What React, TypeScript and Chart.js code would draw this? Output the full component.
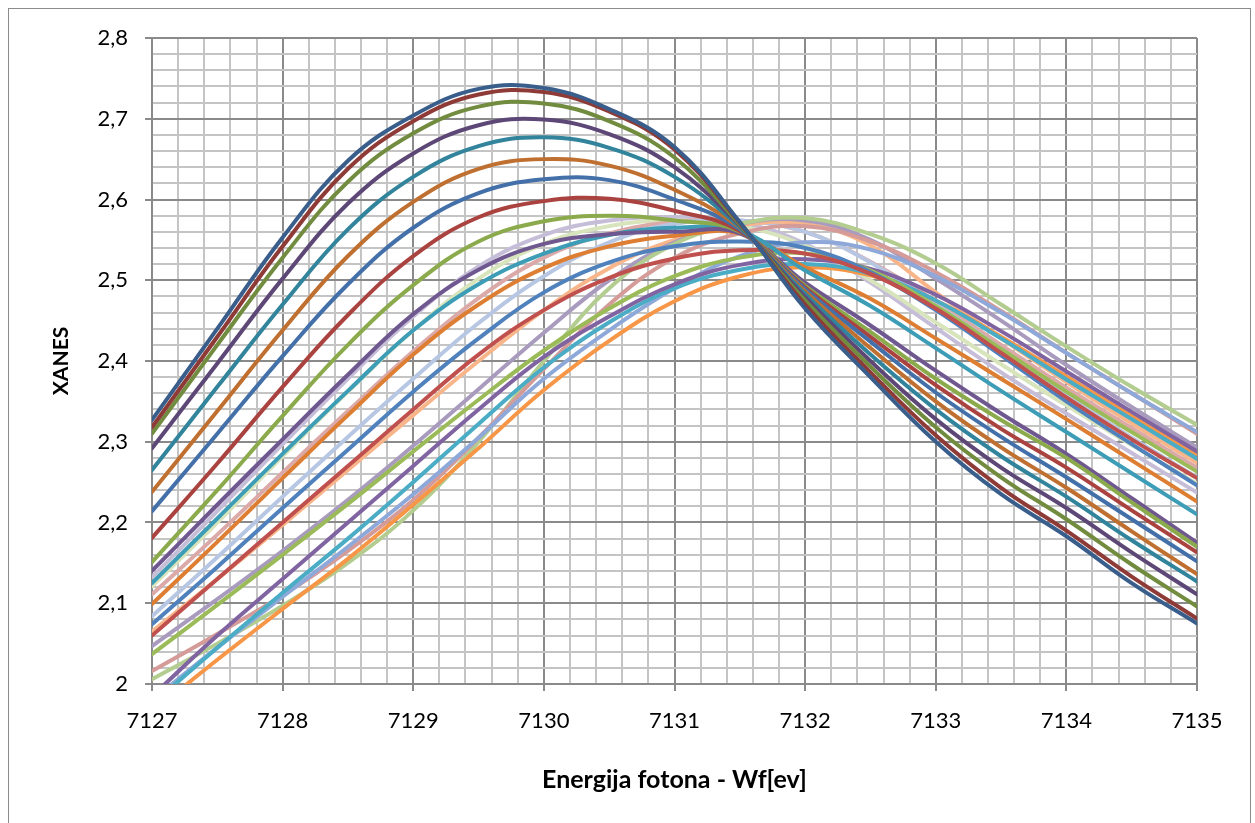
import React, { useEffect, useRef } from 'react';
import { Chart, registerables } from 'chart.js';
Chart.register(...registerables);

const X_VALUES = [7127, 7127.5, 7128, 7128.5, 7129, 7129.5, 7130, 7130.5, 7131, 7131.5, 7132, 7132.5, 7133, 7133.5, 7134, 7134.5, 7135];

// Family with early peaks
const S01 = [2.327, 2.440, 2.553, 2.648, 2.704, 2.737, 2.738, 2.712, 2.665, 2.572, 2.465, 2.380, 2.300, 2.235, 2.183, 2.125, 2.075];
const S02 = [2.318, 2.430, 2.542, 2.638, 2.697, 2.730, 2.733, 2.709, 2.662, 2.571, 2.470, 2.386, 2.308, 2.243, 2.190, 2.133, 2.081];
const S03 = [2.310, 2.420, 2.528, 2.622, 2.682, 2.715, 2.719, 2.697, 2.652, 2.569, 2.475, 2.393, 2.318, 2.256, 2.204, 2.148, 2.096];
const S04 = [2.292, 2.397, 2.502, 2.595, 2.657, 2.692, 2.699, 2.681, 2.640, 2.568, 2.479, 2.400, 2.328, 2.268, 2.218, 2.163, 2.111];
const S05 = [2.265, 2.368, 2.470, 2.563, 2.628, 2.666, 2.677, 2.664, 2.628, 2.566, 2.483, 2.408, 2.340, 2.282, 2.232, 2.178, 2.127];
const S06 = [2.238, 2.338, 2.438, 2.530, 2.597, 2.638, 2.650, 2.642, 2.612, 2.565, 2.486, 2.416, 2.350, 2.293, 2.243, 2.189, 2.136];
const S07 = [2.214, 2.310, 2.406, 2.495, 2.565, 2.608, 2.625, 2.624, 2.600, 2.563, 2.489, 2.424, 2.361, 2.306, 2.256, 2.204, 2.152];
const S08 = [2.181, 2.273, 2.368, 2.457, 2.530, 2.578, 2.598, 2.601, 2.586, 2.561, 2.491, 2.430, 2.370, 2.316, 2.268, 2.215, 2.163];
const S09 = [2.151, 2.240, 2.332, 2.420, 2.494, 2.548, 2.573, 2.580, 2.574, 2.560, 2.493, 2.436, 2.378, 2.327, 2.280, 2.225, 2.170];
const S10 = [2.140, 2.222, 2.303, 2.383, 2.458, 2.513, 2.545, 2.557, 2.560, 2.558, 2.497, 2.444, 2.388, 2.335, 2.285, 2.230, 2.175];
const S11 = [2.125, 2.205, 2.285, 2.363, 2.438, 2.495, 2.533, 2.556, 2.565, 2.561, 2.512, 2.468, 2.416, 2.363, 2.312, 2.261, 2.210];
const S12 = [2.099, 2.176, 2.255, 2.333, 2.408, 2.470, 2.515, 2.542, 2.555, 2.558, 2.516, 2.477, 2.428, 2.378, 2.328, 2.277, 2.226];

// Family with later peaks
const S13 = [2.060, 2.130, 2.200, 2.270, 2.340, 2.408, 2.463, 2.503, 2.527, 2.537, 2.533, 2.508, 2.465, 2.410, 2.355, 2.303, 2.255];
const S14 = [2.074, 2.145, 2.218, 2.290, 2.362, 2.428, 2.485, 2.522, 2.542, 2.548, 2.540, 2.510, 2.463, 2.407, 2.350, 2.297, 2.246];
const S15 = [2.037, 2.098, 2.160, 2.223, 2.288, 2.352, 2.413, 2.465, 2.505, 2.528, 2.533, 2.512, 2.468, 2.415, 2.362, 2.312, 2.263];
const S16 = [1.985, 2.060, 2.130, 2.200, 2.270, 2.340, 2.405, 2.455, 2.495, 2.519, 2.526, 2.514, 2.482, 2.437, 2.387, 2.337, 2.288];
const S17 = [1.975, 2.045, 2.113, 2.180, 2.250, 2.322, 2.392, 2.448, 2.490, 2.513, 2.520, 2.508, 2.475, 2.428, 2.377, 2.328, 2.279];
const S18 = [1.965, 2.030, 2.093, 2.155, 2.222, 2.292, 2.364, 2.425, 2.474, 2.505, 2.516, 2.506, 2.475, 2.430, 2.381, 2.332, 2.284];
const S19 = [1.980, 2.045, 2.108, 2.170, 2.235, 2.305, 2.378, 2.438, 2.490, 2.530, 2.547, 2.538, 2.505, 2.460, 2.410, 2.360, 2.312];
const S20 = [2.016, 2.062, 2.110, 2.165, 2.228, 2.305, 2.390, 2.470, 2.528, 2.558, 2.567, 2.548, 2.510, 2.462, 2.410, 2.360, 2.310];
const S21 = [2.006, 2.050, 2.097, 2.150, 2.215, 2.300, 2.400, 2.490, 2.545, 2.570, 2.577, 2.557, 2.521, 2.470, 2.418, 2.368, 2.321];
const S22 = [2.047, 2.105, 2.165, 2.228, 2.295, 2.365, 2.435, 2.500, 2.547, 2.570, 2.574, 2.550, 2.502, 2.450, 2.395, 2.343, 2.293];
const S23 = [2.065, 2.130, 2.197, 2.265, 2.333, 2.400, 2.463, 2.515, 2.550, 2.568, 2.570, 2.543, 2.485, 2.428, 2.374, 2.323, 2.274];
const S24 = [2.084, 2.157, 2.232, 2.306, 2.378, 2.447, 2.505, 2.547, 2.570, 2.574, 2.560, 2.522, 2.470, 2.415, 2.358, 2.305, 2.256];
const S25 = [2.111, 2.185, 2.262, 2.338, 2.412, 2.478, 2.528, 2.558, 2.572, 2.574, 2.560, 2.523, 2.474, 2.420, 2.367, 2.317, 2.268];
const S26 = [2.121, 2.200, 2.282, 2.362, 2.438, 2.502, 2.545, 2.567, 2.574, 2.567, 2.543, 2.500, 2.448, 2.396, 2.345, 2.296, 2.248];
const S27 = [2.132, 2.214, 2.297, 2.378, 2.455, 2.517, 2.556, 2.574, 2.578, 2.572, 2.545, 2.497, 2.441, 2.386, 2.335, 2.286, 2.237];

const SERIES_VALUES = [S01, S02, S03, S04, S05, S06, S07, S08, S09, S10, S11, S12, S13, S14, S15, S16, S17, S18, S19, S20, S21, S22, S23, S24, S25, S26, S27];
const SERIES_COLORS = [
  '#3A5E8C', '#8E3B38', '#718C3F', '#5D4776', '#31849B', '#BF6F2F',
  '#4470A9', '#AA4340', '#8BAA4C', '#6F578F', '#3D9DB6', '#DD7E33',
  '#C0504D', '#4F81BD', '#9BBB59', '#8064A2', '#4BACC6', '#F79646',
  '#8EA9D9', '#D59B99', '#B3CC8F', '#A99BBD', '#F9B58A', '#B7C7E3',
  '#DBA9A8', '#D7E4BC', '#C6BED8'
];

const X_MIN = 7127;
const X_MAX = 7135;
const Y_MIN = 2;
const Y_MAX = 2.8;

const isMajorX = (v: number) => Math.abs(v - Math.round(v)) < 1e-6;
const isMajorY = (v: number) => Math.abs(v * 10 - Math.round(v * 10)) < 1e-6;

export default function App() {
  const ref = useRef<HTMLCanvasElement>(null);
  useEffect(() => {
    if (!ref.current) return;
    const datasets = SERIES_VALUES.map((vals, i) => ({
      label: 'Serija ' + (i + 1),
      data: X_VALUES.map((x, j) => ({ x, y: vals[j] })),
      borderColor: SERIES_COLORS[i],
      backgroundColor: SERIES_COLORS[i],
      borderWidth: 4,
      pointRadius: 0,
      tension: 0.4,
      fill: false,
      borderCapStyle: 'round' as const,
      borderJoinStyle: 'round' as const,
    }));
    const chart = new Chart(ref.current, {
      type: 'line',
      data: { datasets },
      options: {
        animation: false,
        responsive: false,
        maintainAspectRatio: false,
        layout: { padding: { left: 0, right: 58, top: 38, bottom: 0 } },
        plugins: { legend: { display: false }, tooltip: { enabled: false }, title: { display: false } },
        scales: {
          x: {
            type: 'linear',
            min: X_MIN,
            max: X_MAX,
            afterFit: (s: any) => { s.height = 139; },
            ticks: {
              stepSize: 0.2,
              autoSkip: false,
              maxRotation: 0,
              minRotation: 0,
              padding: 17,
              color: '#000',
              font: { family: 'Lato', size: 22 },
              callback: (v: any) => (isMajorX(Number(v)) ? String(Math.round(Number(v))) : ''),
            },
            grid: {
              color: (c: any) => (c.tick && isMajorX(c.tick.value) ? '#8A8A8A' : '#C4C4C4'),
              tickColor: (c: any) => (c.tick && isMajorX(c.tick.value) ? '#8A8A8A' : 'rgba(0,0,0,0)'),
              lineWidth: 2,
              tickLength: 7,
            },
            border: { display: true, color: '#8A8A8A', width: 2 },
            title: {
              display: true,
              text: 'Energija fotona - Wf[ev]',
              color: '#000',
              font: { family: 'Lato', size: 25, weight: 'bold' },
              padding: { top: 0, bottom: 28 },
            },
          },
          y: {
            type: 'linear',
            min: Y_MIN,
            max: Y_MAX,
            afterFit: (s: any) => { s.width = 152; },
            ticks: {
              stepSize: 0.02,
              autoSkip: false,
              padding: 17,
              color: '#000',
              font: { family: 'Lato', size: 22 },
              callback: (v: any) => {
                const n = Number(v);
                if (!isMajorY(n)) return '';
                return String(Math.round(n * 10) / 10).replace('.', ',');
              },
            },
            grid: {
              color: (c: any) => (c.tick && isMajorY(c.tick.value) ? '#8A8A8A' : '#C4C4C4'),
              tickColor: (c: any) => (c.tick && isMajorY(c.tick.value) ? '#8A8A8A' : 'rgba(0,0,0,0)'),
              lineWidth: 2,
              tickLength: 7,
            },
            border: { display: true, color: '#8A8A8A', width: 2 },
            title: {
              display: true,
              text: 'XANES',
              color: '#000',
              font: { family: 'Lato', size: 21, weight: 'bold' },
              padding: { top: 49, bottom: 0 },
            },
          },
        },
      },
    });
    return () => chart.destroy();
  }, []);
  return (
    <div style={{ position: 'fixed', left: 0, top: 0, width: 1255, height: 823, background: '#fff', overflow: 'hidden' }}>
      <div style={{ position: 'absolute', left: 8, top: 8, width: 1243, height: 900, border: '1px solid #8C8C8C', boxSizing: 'border-box' }} />
      <canvas ref={ref} width={1255} height={823} style={{ position: 'absolute', left: 0, top: 0 }} />
    </div>
  );
}
